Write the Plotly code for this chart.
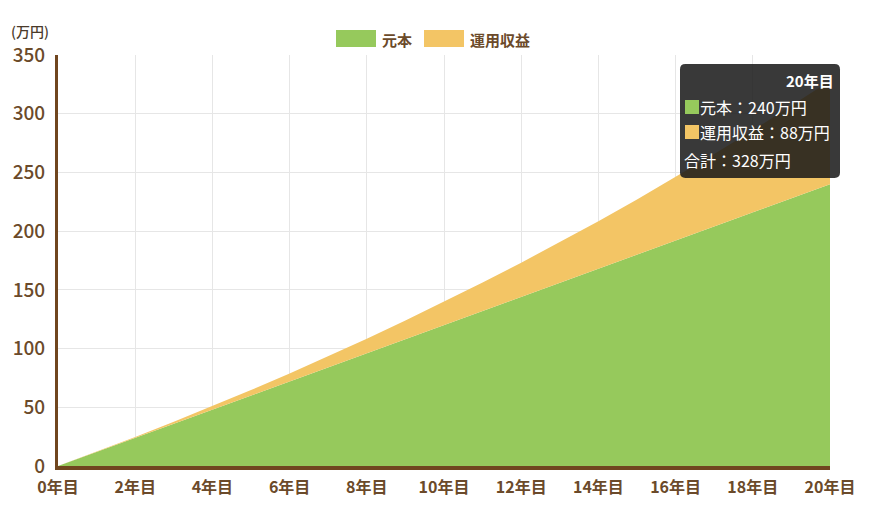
import plotly.graph_objects as go

# 積立 1万円/月, 年ごとの値 (万円)
years = list(range(0, 21))
principal = [0, 12, 24, 36, 48, 60, 72, 84, 96, 108, 120,
             132, 144, 156, 168, 180, 192, 204, 216, 228, 240]
gains = [0, 0.2, 0.7, 1.6, 2.9, 4.7, 6.8, 9.3, 12.4, 15.8, 19.7,
         24.2, 29.1, 34.5, 40.5, 47.0, 54.0, 61.7, 69.9, 78.8, 88.0]
series_names = ["元本", "運用収益"]
tick_vals = list(range(0, 21, 2))
tick_text = [f"{v}年目" for v in tick_vals]

GREEN = "#96c95c"
ORANGE = "#f3c565"
BROWN = "#70461f"
TEXT = "#6b4a2a"
FONT = "Noto Sans CJK JP"


def px(x):
    # pixel -> paper (plot area 58..830)
    return (x - 58) / 772


def py(y):
    # pixel -> paper (plot area 466..55)
    return (466 - y) / 411


fig = go.Figure()
fig.add_trace(go.Scatter(
    x=years, y=principal, name=series_names[0], mode="lines",
    stackgroup="one", line=dict(width=0, color=GREEN),
    fillcolor=GREEN, showlegend=False,
))
fig.add_trace(go.Scatter(
    x=years, y=gains, name=series_names[1], mode="lines",
    stackgroup="one", line=dict(width=0, color=ORANGE),
    fillcolor=ORANGE, showlegend=False,
))

# 凡例 (手描き)
legend_items = [(series_names[0], GREEN, 336), (series_names[1], ORANGE, 424)]
for name, color, x0 in legend_items:
    fig.add_shape(type="rect", xref="paper", yref="paper",
                  x0=px(x0), x1=px(x0 + 40), y0=py(47), y1=py(30),
                  fillcolor=color, line=dict(width=0))
    fig.add_annotation(xref="paper", yref="paper", x=px(x0 + 44), y=py(39),
                       xanchor="left", yanchor="middle", text=name, showarrow=False,
                       font=dict(family=FONT, size=15, color=TEXT, weight="bold"))

# tooltip風の注記 (20年目)
last = len(years) - 1
total = principal[last] + gains[last]
bx0, bx1, by0, by1, r = px(680), px(840), py(178), py(64), 0.007
ry = r * 772 / 411
fig.add_shape(
    type="path", xref="paper", yref="paper",
    path=(f"M{bx0 + r},{by1} L{bx1 - r},{by1} Q{bx1},{by1} {bx1},{by1 - ry} "
          f"L{bx1},{by0 + ry} Q{bx1},{by0} {bx1 - r},{by0} "
          f"L{bx0 + r},{by0} Q{bx0},{by0} {bx0},{by0 + ry} "
          f"L{bx0},{by1 - ry} Q{bx0},{by1} {bx0 + r},{by1} Z"),
    fillcolor="rgba(25,25,25,0.86)", line=dict(width=0),
)
fig.add_shape(type="rect", xref="paper", yref="paper",
              x0=px(685), x1=px(699), y0=py(114), y1=py(100),
              fillcolor=GREEN, line=dict(width=0))
fig.add_shape(type="rect", xref="paper", yref="paper",
              x0=px(685), x1=px(699), y0=py(139), y1=py(125),
              fillcolor=ORANGE, line=dict(width=0))
tip_font = dict(family=FONT, size=16, color="white")
fig.add_annotation(xref="paper", yref="paper", x=px(836), y=py(80),
                   xanchor="right", yanchor="middle", showarrow=False,
                   text=f"<b>{years[last]}年目</b>",
                   font=dict(family=FONT, size=15, color="white"))
fig.add_annotation(xref="paper", yref="paper", x=px(698), y=py(107),
                   xanchor="left", yanchor="middle", showarrow=False,
                   text=f"{series_names[0]}：{principal[last]}万円", font=tip_font)
fig.add_annotation(xref="paper", yref="paper", x=px(698), y=py(132),
                   xanchor="left", yanchor="middle", showarrow=False,
                   text=f"{series_names[1]}：{gains[last]:.0f}万円", font=tip_font)
fig.add_annotation(xref="paper", yref="paper", x=px(682), y=py(160),
                   xanchor="left", yanchor="middle", showarrow=False,
                   text=f"合計：{total:.0f}万円", font=tip_font)

# 単位
fig.add_annotation(xref="paper", yref="paper", x=px(9), y=py(31),
                   xanchor="left", yanchor="middle", text="(万円)", showarrow=False,
                   font=dict(family=FONT, size=14, color="#4a3a2a", weight=500))

fig.update_layout(
    width=854, height=495,
    margin=dict(l=50, r=32, t=47, b=37, autoexpand=False),
    paper_bgcolor="white", plot_bgcolor="white",
    font=dict(family=FONT, color=TEXT),
    showlegend=False,
    hovermode="x unified",
)
fig.update_xaxes(
    range=[0, 20], tickvals=tick_vals, ticktext=tick_text,
    showgrid=True, gridcolor="#e6e6e6", gridwidth=1,
    showline=True, linecolor=BROWN, linewidth=4,
    ticks="", ticklabelstandoff=4, automargin=False,
    tickfont=dict(family=FONT, size=16, color=TEXT, weight="bold"),
    zeroline=False,
)
fig.update_yaxes(
    range=[0, 350], dtick=50,
    showgrid=True, gridcolor="#e6e6e6", gridwidth=1,
    showline=True, linecolor=BROWN, linewidth=3,
    ticks="", ticklabelstandoff=6, automargin=False,
    tickfont=dict(family=FONT, size=19, color=TEXT, weight=500),
    zeroline=False,
)

fig.write_html("out.html")
